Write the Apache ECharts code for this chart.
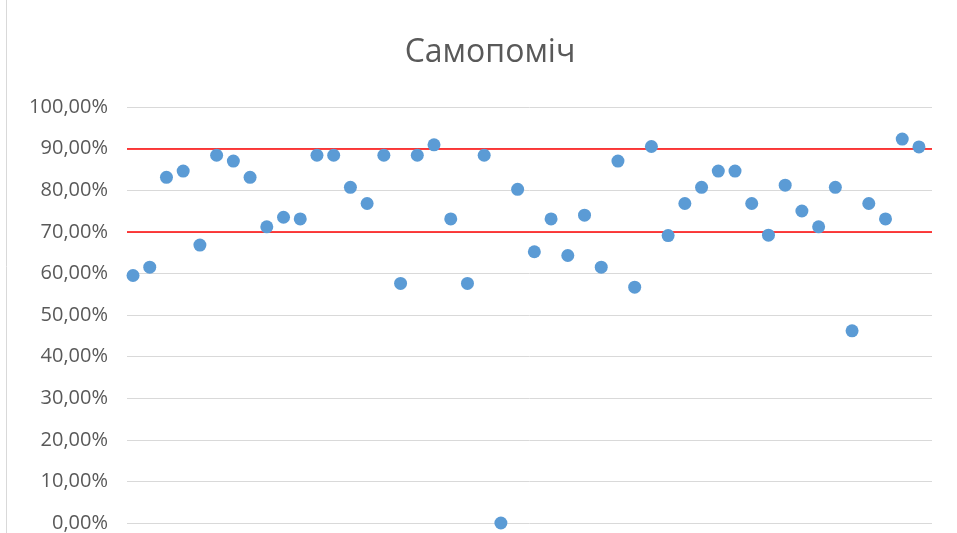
<!DOCTYPE html>
<html>
<head>
<meta charset="utf-8">
<script src="https://cdn.jsdelivr.net/npm/echarts@6/dist/echarts.min.js"></script>
<style>
  html, body { margin: 0; padding: 0; background: #fff; }
  #chart { width: 957px; height: 533px; }
</style>
</head>
<body>
<div id="chart"></div>
<script>
// chart data (percent)
let titleText = 'Самопоміч';
let points = [
  59.5, 61.5, 83.1, 84.6, 66.8, 88.4, 87.0, 83.1, 71.2, 73.5,
  73.1, 88.4, 88.4, 80.7, 76.8, 88.4, 57.6, 88.4, 90.9, 73.1,
  57.6, 88.4, 0.0, 80.2, 65.2, 73.1, 64.3, 74.0, 61.5, 87.0,
  56.7, 90.5, 69.1, 76.8, 80.7, 84.6, 84.6, 76.8, 69.2, 81.2,
  75.0, 71.2, 80.7, 46.2, 76.8, 73.1, 92.3, 90.4
];
let limits = [70, 90];
let yTicks = [0, 10, 20, 30, 40, 50, 60, 70, 80, 90, 100];

let scatterData = points.map((v, i) => [i + 1, v]);

let myChart = echarts.init(document.getElementById('chart'));

let option = {
  animation: false,
  title: {
    text: titleText,
    left: 485,
    top: 32,
    textAlign: 'center',
    textStyle: {
      fontFamily: 'Open Sans',
      fontSize: 32,
      fontWeight: 'normal',
      color: '#595959'
    }
  },
  graphic: [
    {
      type: 'line',
      shape: { x1: 6.5, y1: 0, x2: 6.5, y2: 533 },
      style: { stroke: '#d9d9d9', lineWidth: 1 }
    }
  ],
  grid: {
    left: 127,
    right: 25,
    top: 107,
    bottom: 10
  },
  xAxis: {
    type: 'value',
    min: 0.64,
    max: 48.78,
    axisLine: { show: false },
    axisTick: { show: false },
    axisLabel: { show: false },
    splitLine: { show: false }
  },
  yAxis: {
    type: 'value',
    min: yTicks[0],
    max: yTicks[yTicks.length - 1],
    interval: 10,
    axisLine: { show: false },
    axisTick: { show: false },
    axisLabel: {
      margin: 19,
      fontFamily: 'Open Sans',
      fontSize: 20,
      color: '#595959',
      formatter: function (v) {
        return v.toFixed(2).replace('.', ',') + '%';
      }
    },
    splitLine: { lineStyle: { color: '#d9d9d9', width: 1 } }
  },
  series: [
    {
      type: 'scatter',
      symbolSize: 13,
      itemStyle: { color: '#5b9bd5', opacity: 1 },
      data: scatterData,
      z: 3,
      markLine: {
        silent: true,
        symbol: 'none',
        label: { show: false },
        lineStyle: { color: '#ff0000', width: 1.5, type: 'solid' },
        data: limits.map(v => ({ yAxis: v })),
        z: 2
      }
    }
  ]
};

myChart.setOption(option);
</script>
</body>
</html>
